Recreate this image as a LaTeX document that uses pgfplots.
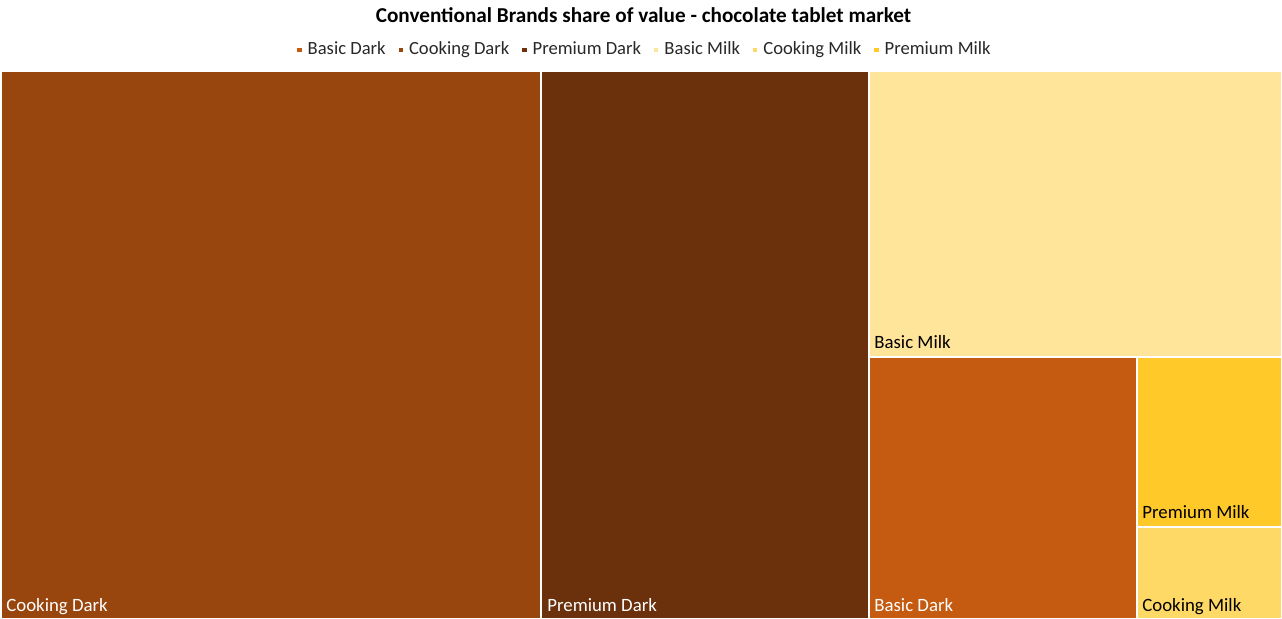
\documentclass[border=0pt]{standalone}
\usepackage{pgfplots}
\pgfplotsset{compat=1.18}
\usepackage{fontspec}
\setmainfont{Carlito}
\definecolor{cDark}{RGB}{152,69,14}
\definecolor{pDark}{RGB}{107,48,12}
\definecolor{bDark}{RGB}{197,90,17}
\definecolor{bMilk}{RGB}{255,229,153}
\definecolor{pMilk}{RGB}{255,202,41}
\definecolor{cMilk}{RGB}{255,217,102}
\begin{document}
\begin{tikzpicture}[x=1pt,y=1pt]
\useasboundingbox (0,0) rectangle (641,309.5);
\begin{axis}[
  at={(0,0)}, anchor=south west,
  scale only axis, width=641pt, height=274pt,
  xmin=0, xmax=1282, ymin=0, ymax=548,
  hide axis, clip=false,
  legend columns=-1,
  legend style={at={(axis cs:645,569)}, anchor=center, draw=none, fill=none,
    font=\fontsize{9.3}{11}\selectfont\color[RGB]{40,40,40},
    /tikz/every even column/.append style={column sep=3.5pt},
    inner sep=0pt},
  legend image code/.code={\fill[#1] (0pt,-1.6pt) rectangle (3.2pt,1.6pt);},
  every axis plot/.append style={draw=white, line width=1pt},
]
% rectangles: x0,y0 -> x1,y1 (pixel units, y up from bottom of plot area)
\addplot[fill=cDark, forget plot] coordinates {(1,0) (541,0) (541,548) (1,548)} -- cycle;
\addplot[fill=pDark, forget plot] coordinates {(541,0) (869,0) (869,548) (541,548)} -- cycle;
\addplot[fill=bMilk, forget plot] coordinates {(869,261.5) (1282,261.5) (1282,548) (869,548)} -- cycle;
\addplot[fill=bDark, forget plot] coordinates {(869,0) (1136.5,0) (1136.5,261.5) (869,261.5)} -- cycle;
\addplot[fill=pMilk, forget plot] coordinates {(1136.5,91.5) (1282,91.5) (1282,261.5) (1136.5,261.5)} -- cycle;
\addplot[fill=cMilk, forget plot] coordinates {(1136.5,0) (1282,0) (1282,91.5) (1136.5,91.5)} -- cycle;
\addlegendimage{fill=bDark}\addlegendentry{Basic Dark}
\addlegendimage{fill=cDark}\addlegendentry{Cooking Dark}
\addlegendimage{fill=pDark}\addlegendentry{Premium Dark}
\addlegendimage{fill=bMilk}\addlegendentry{Basic Milk}
\addlegendimage{fill=cMilk}\addlegendentry{Cooking Milk}
\addlegendimage{fill=pMilk}\addlegendentry{Premium Milk}
\begin{scope}[every node/.style={anchor=base west, inner sep=0pt, font=\fontsize{9.4}{11}\selectfont}]
\node[text=white] at (axis cs:6,7) {Cooking Dark};
\node[text=white] at (axis cs:547,7) {Premium Dark};
\node[text=black] at (axis cs:874,270) {Basic Milk};
\node[text=white] at (axis cs:874,7) {Basic Dark};
\node[text=black] at (axis cs:1142,100) {Premium Milk};
\node[text=black] at (axis cs:1142,7) {Cooking Milk};
\end{scope}
\node[font=\fontsize{10.6}{12}\selectfont\bfseries, anchor=center] at (axis cs:643.5,604) {Conventional Brands share of value - chocolate tablet market};
\end{axis}
\end{tikzpicture}
\end{document}
